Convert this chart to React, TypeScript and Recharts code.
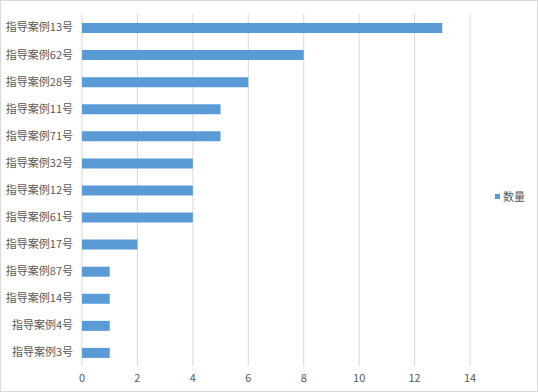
import React from 'react';
import { BarChart, Bar, XAxis, YAxis, CartesianGrid, Legend } from 'recharts';

const categories = [
  '指导案例13号', '指导案例62号', '指导案例28号', '指导案例11号', '指导案例71号',
  '指导案例32号', '指导案例12号', '指导案例61号', '指导案例17号', '指导案例87号',
  '指导案例14号', '指导案例4号', '指导案例3号',
];
const counts = [13, 8, 6, 5, 5, 4, 4, 4, 2, 1, 1, 1, 1];
const xTicks = [0, 2, 4, 6, 8, 10, 12, 14];
const seriesName = '数量';

const data = categories.map((name, i) => ({ name, value: counts[i] }));

const FONT = '"Noto Sans CJK SC", "Noto Sans", sans-serif';
const BLUE = '#5b9bd5';
const TEXT = '#595959';

const LegendBox = () => (
  <div style={{ display: 'flex', alignItems: 'center', fontFamily: FONT, fontSize: 11, color: TEXT }}>
    <span style={{ display: 'inline-block', width: 5, height: 5, background: BLUE, marginRight: 3 }} />
    <span>{seriesName}</span>
  </div>
);

export default function App() {
  return (
    <div
      style={{
        position: 'absolute', left: 0, top: 0, width: 538, height: 392,
        boxSizing: 'border-box', border: '1px solid #d9d9d9', background: '#fff',
      }}
    >
      <BarChart
        width={536}
        height={390}
        data={data}
        layout="vertical"
        margin={{ top: 13, right: 37, bottom: 0, left: 0 }}
      >
        <CartesianGrid horizontal={false} stroke="#d9d9d9" />
        <XAxis
          type="number"
          domain={[0, 14]}
          ticks={xTicks}
          axisLine={false}
          tickLine={false}
          height={25}
          tick={{ fontSize: 11, fill: TEXT, fontFamily: FONT }}
        />
        <YAxis
          type="category"
          dataKey="name"
          width={81}
          axisLine={false}
          tickLine={false}
          tickMargin={3}
          interval={0}
          tick={{ fontSize: 11, fill: TEXT, fontFamily: FONT }}
        />
        <Legend
          layout="vertical"
          align="right"
          verticalAlign="middle"
          content={<LegendBox />}
          wrapperStyle={{ right: 12 }}
        />
        <Bar dataKey="value" name={seriesName} fill={BLUE} barSize={10} isAnimationActive={false} />
      </BarChart>
    </div>
  );
}
